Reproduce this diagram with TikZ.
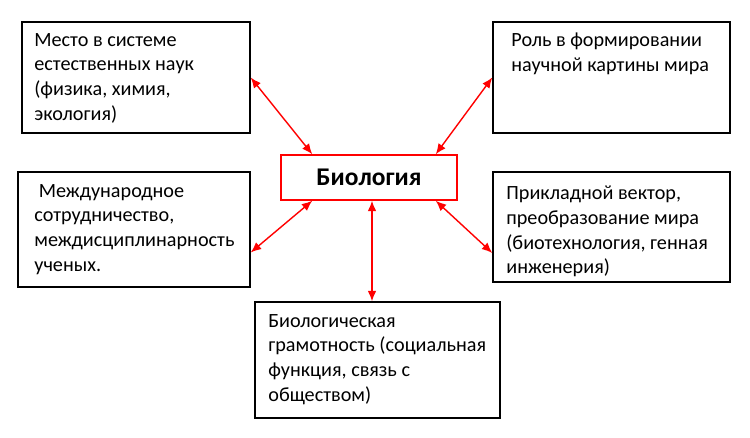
\documentclass[tikz,border=0pt]{standalone}
\usepackage{fontspec}
\setmainfont{Carlito}
\usetikzlibrary{positioning,arrows.meta}

\begin{document}
\begin{tikzpicture}[x=0.02cm,y=-0.02cm,
  box/.style={draw,thick,inner sep=0pt},
  txt/.style={anchor=north west,align=left,font=\fontsize{11.5}{14}\selectfont,inner sep=0pt},
  link/.style={red,thick,{Latex[length=6pt,width=5pt]}-{Latex[length=6pt,width=5pt]}}]
  \useasboundingbox (0,0) rectangle (750,438);
  % boxes
  \node[box,minimum width=228*0.02cm,minimum height=111*0.02cm] (tl) at (136,77.5) {};
  \node[box,minimum width=237*0.02cm,minimum height=111*0.02cm] (tr) at (611.5,77.5) {};
  \node[box,minimum width=232*0.02cm,minimum height=115*0.02cm] (ml) at (134,229.5) {};
  \node[box,minimum width=237*0.02cm,minimum height=110*0.02cm] (mr) at (611.5,227) {};
  \node[box,minimum width=245*0.02cm,minimum height=116*0.02cm] (bt) at (377.5,360) {};
  \node[draw=red,thick,minimum width=176*0.02cm,minimum height=45*0.02cm,
        font=\fontsize{14.5}{17}\selectfont\bfseries] (bio) at (369,177.5) {Биология};
  % texts
  \node[txt] at (34,33) {Место в системе\\естественных наук\\(физика, химия,\\экология)};
  \node[txt] at (511,33) {Роль в формировании\\научной картины мира};
  \node[txt] at (34,184) {\ Международное\\сотрудничество,\\междисциплинарность\\ученых.};
  \begin{scope}
    \clip (493,172) rectangle (730,281);
    \node[txt] at (506,186) {Прикладной вектор,\\преобразование мира\\(биотехнология, генная\\инженерия)};
  \end{scope}
  \node[txt] at (268,314) {Биологическая\\грамотность (социальная\\функция, связь с\\обществом)};
  % links
  \draw[link] (tl.east) -- ([xshift=32*0.02cm]bio.north west);
  \draw[link] (tr.west) -- ([xshift=-22*0.02cm]bio.north east);
  \draw[link] ([yshift=-23*0.02cm]ml.east) -- ([xshift=32*0.02cm]bio.south west);
  \draw[link] ([yshift=-26*0.02cm]mr.west) -- ([xshift=-22*0.02cm]bio.south east);
  \draw[link] ([xshift=3*0.02cm]bio.south) -- ([xshift=-5.5*0.02cm]bt.north);
\end{tikzpicture}
\end{document}
